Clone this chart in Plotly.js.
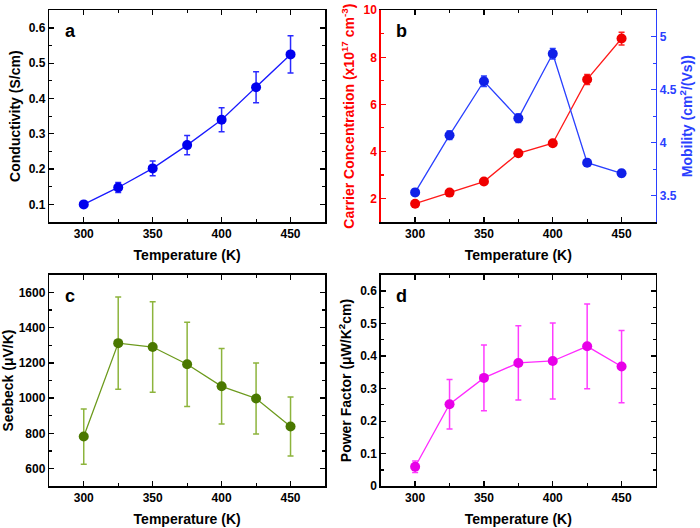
<!DOCTYPE html>
<html>
<head>
<meta charset="utf-8">
<script src="https://cdn.plot.ly/plotly-3.0.1.min.js"></script>
<style>html,body{margin:0;padding:0;background:#fff;}#chart{width:700px;height:528px;}</style>
</head>
<body>
<div id="chart"></div>
<script>
// ---- data ----
const temperature = [300, 325, 350, 375, 400, 425, 450];

const conductivity = [0.100, 0.148, 0.202, 0.268, 0.340, 0.432, 0.525];
const conductivityErr = [0.005, 0.014, 0.021, 0.027, 0.034, 0.044, 0.053];

const carrierConc = [1.78, 2.25, 2.72, 3.92, 4.35, 7.06, 8.80];
const carrierConcErr = [0.05, 0.07, 0.08, 0.10, 0.10, 0.21, 0.27];

const mobility = [3.53, 4.07, 4.58, 4.23, 4.84, 3.81, 3.71];
const mobilityErr = [0.03, 0.04, 0.05, 0.04, 0.05, 0.03, 0.03];

const seebeck = [782, 1312, 1290, 1192, 1067, 998, 839];
const seebeckErr = [157, 262, 257, 239, 214, 201, 167];

const powerFactor = [0.060, 0.252, 0.333, 0.379, 0.385, 0.430, 0.368];
const powerFactorErr = [0.018, 0.076, 0.101, 0.114, 0.117, 0.130, 0.111];

const panelLetters = ['a', 'b', 'c', 'd'];
const xTitle = 'Temperature (K)';

// ---- styling ----
const FONT = 'Liberation Sans, Arial, Helvetica, sans-serif';

function series(x, y, err, color, lineColor, errColor, xa, ya) {
  return {
    x: x, y: y, xaxis: xa, yaxis: ya, type: 'scatter', mode: 'lines+markers',
    line: {color: lineColor, width: 1.3},
    marker: {color: color, size: 10, line: {width: 0}},
    error_y: {type: 'data', array: err, visible: true, color: errColor, thickness: 1.5, width: 3},
    showlegend: false, hoverinfo: 'skip'
  };
}

const traces = [
  series(temperature, conductivity, conductivityErr, '#0000ee', '#1a1aff', '#2a2aff', 'x', 'y'),
  series(temperature, carrierConc, carrierConcErr, '#f00000', '#ff1a1a', '#ff2020', 'x2', 'y2'),
  series(temperature, mobility, mobilityErr, '#1020e8', '#2a40ff', '#2a40ff', 'x2', 'y5'),
  series(temperature, seebeck, seebeckErr, '#4a7800', '#6c9a1c', '#8db43c', 'x3', 'y3'),
  series(temperature, powerFactor, powerFactorErr, '#e800e8', '#ff2aff', '#ff3cff', 'x4', 'y4')
];

function xax(domain, anchor) {
  return {
    domain: domain, anchor: anchor, range: [275, 475], dtick: 50, tick0: 0,
    ticks: 'inside', ticklen: 5, tickwidth: 1.3, tickcolor: '#000',
    minor: {dtick: 25, ticks: 'inside', ticklen: 3, tickwidth: 1.1, tickcolor: '#000'},
    showline: true, linecolor: '#000', linewidth: 1.5, mirror: 'ticks',
    showgrid: false, zeroline: false,
    tickfont: {family: FONT, size: 12, color: '#000', weight: 'bold'},
    title: {text: xTitle, font: {family: FONT, size: 14, color: '#000', weight: 'bold'}, standoff: 10},
    automargin: false
  };
}

function yax(domain, anchor, range, dtick, mdtick, titleText, color, opts) {
  const o = {
    domain: domain, anchor: anchor, range: range, dtick: dtick, tick0: 0,
    ticks: 'inside', ticklen: 5, tickwidth: 1.3, tickcolor: color,
    minor: {dtick: mdtick, ticks: 'inside', ticklen: 3, tickwidth: 1.1, tickcolor: color},
    showline: true, linecolor: color, linewidth: 1.5, mirror: 'ticks',
    showgrid: false, zeroline: false,
    tickfont: {family: FONT, size: 12, color: color, weight: 'bold'},
    title: {text: titleText, font: {family: FONT, size: 14, color: color, weight: 'bold'}, standoff: 5},
    automargin: false
  };
  return Object.assign(o, opts || {});
}

const dxL = [0.0704, 0.4643], dxR = [0.5439, 0.9371];
const dyT = [0.5795, 0.9805], dyB = [0.0790, 0.4797];

const layout = {
  width: 700, height: 528,
  margin: {l: 0, r: 0, t: 0, b: 0},
  paper_bgcolor: '#fff', plot_bgcolor: 'rgba(0,0,0,0)',
  font: {family: FONT, color: '#000'},
  xaxis: xax(dxL, 'y'),
  xaxis2: xax(dxR, 'y2'),
  xaxis3: xax(dxL, 'y3'),
  xaxis4: xax(dxR, 'y4'),
  yaxis: yax(dyT, 'x', [0.05, 0.65], 0.1, 0.05, 'Conductivity (S/cm)', '#000'),
  yaxis2: yax(dyT, 'x2', [1, 10], 2, 1, 'Carrier Concentration (x10<sup>17</sup> cm<sup>-3</sup>)', '#ff0000', {mirror: false}),
  yaxis3: yax(dyB, 'x3', [500, 1700], 200, 100, 'Seebeck (μV/K)', '#000'),
  yaxis4: yax(dyB, 'x4', [0, 0.65], 0.1, 0.05, 'Power Factor (μW/K<sup>2</sup>cm)', '#000'),
  yaxis5: yax(dyT, 'x2', [3.25, 5.25], 0.5, 0.25, 'Mobility (cm<sup>2</sup>/(Vs))', '#2a40ff', {mirror: false, overlaying: 'y2', side: 'right'}),
  annotations: panelLetters.map((t, i) => ({
    text: t, showarrow: false,
    xref: ['x', 'x2', 'x3', 'x4'][i] + ' domain',
    yref: ['y', 'y2', 'y3', 'y4'][i] + ' domain',
    x: 0.05, y: i < 2 ? 0.904 : 0.9, xanchor: 'left', yanchor: 'middle',
    font: {family: FONT, size: 18, color: '#000', weight: 'bold'}
  }))
};

Plotly.newPlot('chart', traces, layout, {displayModeBar: false, staticPlot: true});
</script>
</body>
</html>
